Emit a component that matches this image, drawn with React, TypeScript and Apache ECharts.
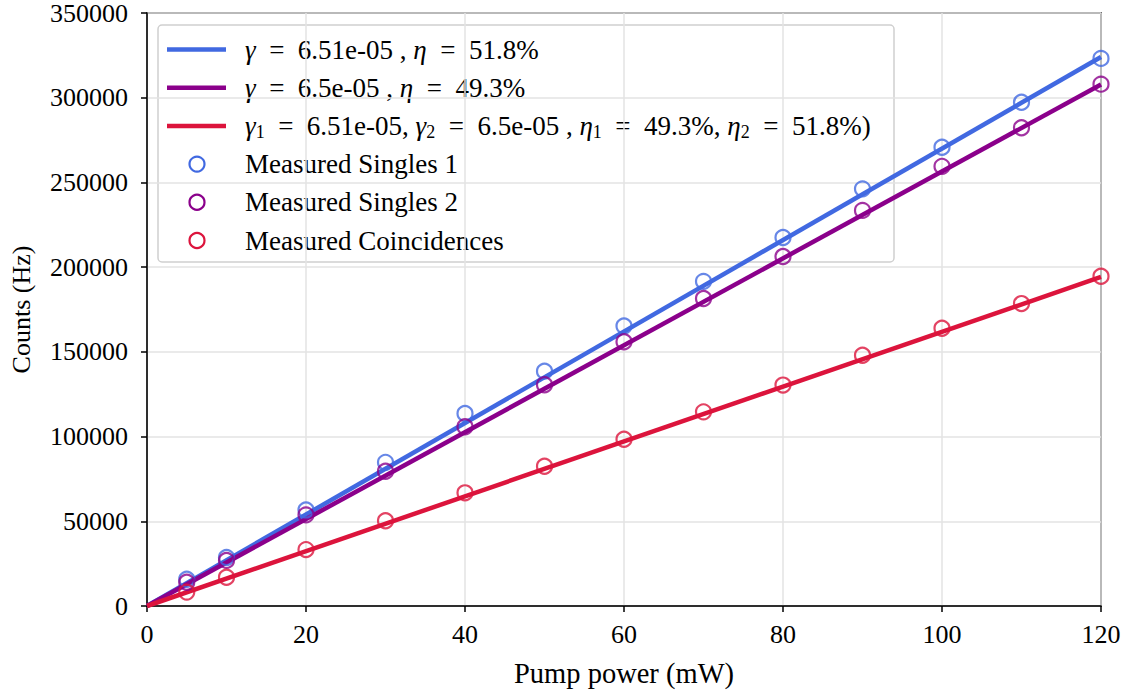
import React, { useEffect, useRef } from "react";
import * as echarts from "echarts";

const powerMw = [5, 10, 20, 30, 40, 50, 60, 70, 80, 90, 100, 110, 120];
const singles1 = [15800, 28650, 56700, 84800, 113600, 138600, 165300, 191600, 217500, 246200, 270800, 297300, 323200];
const singles2 = [14000, 26900, 53800, 79500, 105800, 130600, 156000, 181500, 206300, 233500, 259500, 282300, 308000];
const coincidences = [8200, 16960, 33300, 50300, 66800, 82500, 98400, 114600, 130400, 148000, 163900, 178500, 194600];

const fitX = [0, 120];
const fit1 = [0, 324000];
const fit2 = [0, 307800];
const fitC = [0, 194200];

const BLUE = "#4169E1";
const PURPLE = "#8B008B";
const RED = "#DC143C";
const FONT = "Liberation Serif";
const TICK_FS = 26;
const LEG_FS = 27;

const EQ = "\u2002=\u2002";
const legendLabels = [
  `{i|γ}${EQ}6.51e-05 , {i|η}${EQ}51.8%`,
  `{i|γ}${EQ}6.5e-05 , {i|η}${EQ}49.3%`,
  `{i|γ}{s|1}${EQ}6.51e-05, {i|γ}{s|2}${EQ}6.5e-05 , {i|η}{s|1}${EQ}49.3%, {i|η}{s|2}${EQ}51.8%)`,
  "Measured Singles 1",
  "Measured Singles 2",
  "Measured Coincidences",
];
const legendColors = [BLUE, PURPLE, RED, BLUE, PURPLE, RED];
const legendKinds = ["line", "line", "line", "circle", "circle", "circle"];

const pairs = (xs: number[], ys: number[]) => xs.map((x, i) => [x, ys[i]]);

export default function App() {
  const ref = useRef<HTMLDivElement>(null);
  useEffect(() => {
    if (!ref.current) return;
    const chart = echarts.init(ref.current, undefined, { renderer: "svg" });

    const rich = {
      i: { fontStyle: "italic", fontFamily: FONT, fontSize: LEG_FS, fill: "#000" },
      s: { fontFamily: FONT, fontSize: 18, padding: [12, 0, 0, 0], fill: "#000" },
    };

    const rowY0 = 49.5;
    const rowGap = 38.2;
    const legendChildren: any[] = [
      {
        type: "rect",
        shape: { x: 158, y: 25, width: 736, height: 237, r: 4 },
        style: { fill: "rgba(255,255,255,0.8)", stroke: "#cfcfcf", lineWidth: 1.5 },
      },
    ];
    legendLabels.forEach((label, k) => {
      const y = rowY0 + k * rowGap;
      if (legendKinds[k] === "line") {
        legendChildren.push({
          type: "line",
          shape: { x1: 167, y1: y, x2: 226, y2: y },
          style: { stroke: legendColors[k], lineWidth: 4.5 },
        });
      } else {
        legendChildren.push({
          type: "circle",
          shape: { cx: 197, cy: y, r: 7.5 },
          style: { fill: "none", stroke: legendColors[k], lineWidth: 2.2 },
        });
      }
      legendChildren.push({
        type: "text",
        x: 245,
        y: y,
        style: {
          text: label,
          fontFamily: FONT,
          fontSize: LEG_FS,
          fill: "#000",
          verticalAlign: "middle",
          align: "left",
          rich,
        },
      });
    });

    const lineSeries = (data: number[][], color: string) => ({
      type: "line",
      data,
      showSymbol: false,
      symbol: "none",
      lineStyle: { color, width: 4.5 },
      itemStyle: { color },
      z: 2,
    });
    const scatterSeries = (data: number[][], color: string) => ({
      type: "scatter",
      data,
      symbol: "circle",
      symbolSize: 15,
      itemStyle: { color: "rgba(0,0,0,0)", borderColor: color, borderWidth: 2.2 },
      z: 3,
    });

    chart.setOption({
      animation: false,
      backgroundColor: "#fff",
      textStyle: { fontFamily: FONT },
      grid: {
        left: 146,
        right: 32,
        top: 12.5,
        bottom: 82,
        show: true,
        borderColor: "#000",
        borderWidth: 1.5,
        backgroundColor: "transparent",
      },
      xAxis: {
        type: "value",
        min: 0,
        max: 120,
        interval: 20,
        name: "Pump power (mW)",
        nameLocation: "middle",
        nameGap: 53,
        nameTextStyle: { fontFamily: FONT, fontSize: 28.5, color: "#000" },
        axisLine: { show: true, lineStyle: { color: "#000", width: 1.5 } },
        axisTick: { show: true, length: 6, lineStyle: { color: "#000", width: 1.5 } },
        axisLabel: { fontFamily: FONT, fontSize: TICK_FS, color: "#000", margin: 15, formatter: (v: number) => String(v) },
        splitLine: { show: true, lineStyle: { color: "#e3e3e3", width: 1.5 } },
      },
      yAxis: {
        type: "value",
        min: 0,
        max: 350000,
        interval: 50000,
        name: "Counts (Hz)",
        nameLocation: "middle",
        nameGap: 113,
        nameTextStyle: { fontFamily: FONT, fontSize: 26, color: "#000" },
        axisLine: { show: true, lineStyle: { color: "#000", width: 1.5 } },
        axisTick: { show: true, length: 6, lineStyle: { color: "#000", width: 1.5 } },
        axisLabel: { fontFamily: FONT, fontSize: TICK_FS, color: "#000", margin: 19, formatter: (v: number) => String(v) },
        splitLine: { show: true, lineStyle: { color: "#e3e3e3", width: 1.5 } },
      },
      series: [
        lineSeries(pairs(fitX, fit1), BLUE),
        lineSeries(pairs(fitX, fit2), PURPLE),
        lineSeries(pairs(fitX, fitC), RED),
        scatterSeries(pairs(powerMw, singles1), BLUE),
        scatterSeries(pairs(powerMw, singles2), PURPLE),
        scatterSeries(pairs(powerMw, coincidences), RED),
      ],
      graphic: [{ type: "group", z: 100, children: legendChildren }],
    });

    return () => chart.dispose();
  }, []);

  return <div ref={ref} style={{ position: "absolute", left: 0, top: 0, width: 1133, height: 693 }} />;
}
